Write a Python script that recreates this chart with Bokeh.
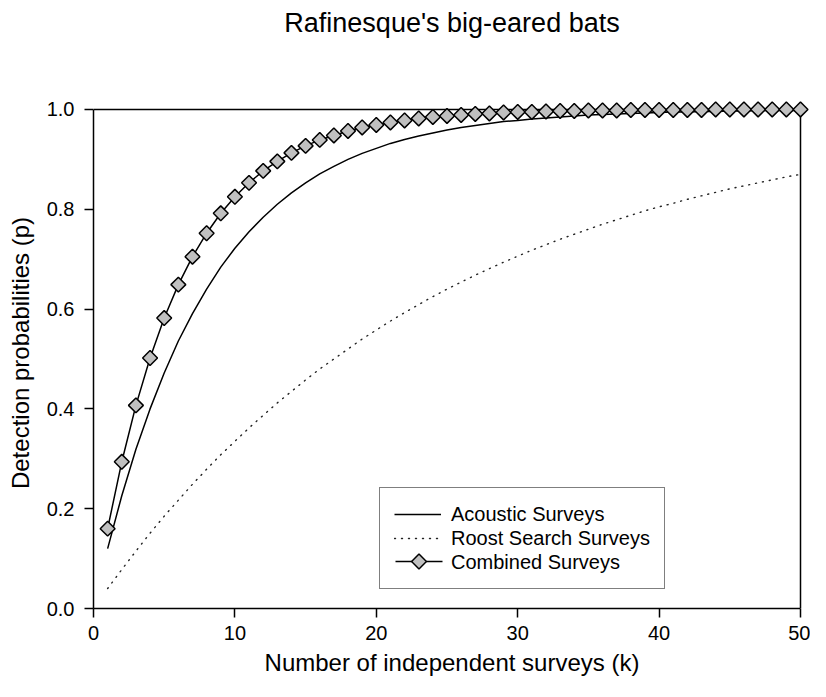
from bokeh.plotting import figure
from bokeh.models import Range1d, FixedTicker, Legend, LegendItem, Title
from bokeh.embed import file_html
from bokeh.resources import INLINE
import math

title_text = "Rafinesque's big-eared bats"
x_label = "Number of independent surveys (k)"
y_label = "Detection probabilities (p)"

surveys = list(range(1, 51))

acoustic = [0.120, 0.226, 0.319, 0.400, 0.472, 0.536, 0.591, 0.640, 0.684, 0.722,
            0.755, 0.784, 0.810, 0.833, 0.853, 0.871, 0.886, 0.900, 0.912, 0.922,
            0.932, 0.940, 0.947, 0.953, 0.959, 0.964, 0.968, 0.972, 0.976, 0.978,
            0.981, 0.983, 0.985, 0.987, 0.989, 0.990, 0.991, 0.992, 0.993, 0.994,
            0.995, 0.995, 0.996, 0.996, 0.997, 0.997, 0.998, 0.998, 0.998, 0.998]

roost = [0.040, 0.078, 0.115, 0.151, 0.185, 0.217, 0.249, 0.279, 0.308, 0.335,
         0.362, 0.387, 0.412, 0.435, 0.458, 0.480, 0.500, 0.520, 0.540, 0.558,
         0.576, 0.593, 0.609, 0.625, 0.640, 0.654, 0.668, 0.681, 0.694, 0.706,
         0.718, 0.729, 0.740, 0.750, 0.760, 0.770, 0.779, 0.788, 0.797, 0.805,
         0.812, 0.820, 0.827, 0.834, 0.841, 0.847, 0.853, 0.859, 0.865, 0.870]

combined = [0.160, 0.294, 0.407, 0.502, 0.582, 0.649, 0.705, 0.752, 0.792, 0.825,
            0.853, 0.877, 0.896, 0.913, 0.927, 0.939, 0.948, 0.957, 0.964, 0.969,
            0.974, 0.978, 0.982, 0.985, 0.987, 0.989, 0.991, 0.992, 0.994, 0.995,
            0.995, 0.996, 0.997, 0.997, 0.998, 0.998, 0.998, 0.999, 0.999, 0.999,
            0.999, 0.999, 0.999, 1.000, 1.000, 1.000, 1.000, 1.000, 1.000, 1.000]

x_ticks = [0, 10, 20, 30, 40, 50]
y_ticks = [0.0, 0.2, 0.4, 0.6, 0.8, 1.0]
y_tick_labels = ["0.0", "0.2", "0.4", "0.6", "0.8", "1.0"]

series_names = ["Acoustic Surveys", "Roost Search Surveys", "Combined Surveys"]

FONT = "Liberation Sans"

W, H = 810, 682
B_LEFT, B_RIGHT, B_TOP, B_BOTTOM = 93, 0, 97, 74
X_END, Y_END = 50.707, 1.024
frame_w = W - B_LEFT - B_RIGHT
frame_h = H - B_TOP - B_BOTTOM
px_x = X_END / frame_w   # data units per pixel
px_y = Y_END / frame_h

p = figure(width=W, height=H, output_backend="svg", toolbar_location=None,
           title=None,
           x_range=Range1d(0, X_END), y_range=Range1d(0, Y_END),
           min_border_left=B_LEFT, min_border_right=B_RIGHT, min_border_top=B_TOP,
           min_border_bottom=B_BOTTOM)
p.outline_line_color = None
p.grid.visible = False
p.background_fill_color = "white"
p.border_fill_color = "white"

# title: an empty spacer next to the frame, then the real title above it
spacer = Title(text=" ", text_font_size="10px", standoff=47)
p.add_layout(spacer, "above")
main_title = Title(text=title_text, align="center", text_font=FONT,
                   text_font_size="27px", text_font_style="normal",
                   text_color="black", standoff=0)
p.add_layout(main_title, "above")

# axes
for ax in (p.xaxis[0], p.yaxis[0]):
    ax.axis_line_width = 1.5
    ax.axis_line_color = "black"
    ax.major_tick_line_width = 1.5
    ax.major_tick_line_color = "black"
    ax.major_tick_in = 0
    ax.major_tick_out = 9
    ax.minor_tick_line_color = None
    ax.major_label_text_font = FONT
    ax.major_label_text_font_size = "20px"
    ax.major_label_text_color = "black"
    ax.axis_label_text_font = FONT
    ax.axis_label_text_font_size = "24px"
    ax.axis_label_text_font_style = "normal"
    ax.axis_label_text_color = "black"

p.xaxis.ticker = FixedTicker(ticks=x_ticks)
p.xaxis.bounds = (x_ticks[0], x_ticks[-1])
p.xaxis.axis_label = x_label
p.xaxis.major_label_standoff = 8
p.xaxis.axis_label_standoff = 6

p.yaxis.ticker = FixedTicker(ticks=y_ticks)
p.yaxis.major_label_overrides = {t: l for t, l in zip(y_ticks, y_tick_labels)}
p.yaxis.bounds = (y_ticks[0], y_ticks[-1])
p.yaxis.axis_label = y_label
p.yaxis.major_label_standoff = 10
p.yaxis.axis_label_standoff = 10

# top and right frame edges
p.segment(x0=[x_ticks[0], x_ticks[-1]], y0=[y_ticks[-1], y_ticks[0]],
          x1=[x_ticks[-1], x_ticks[-1]], y1=[y_ticks[-1], y_ticks[-1]],
          line_color="black", line_width=1.5)

DIAMOND = dict(marker="square", size=10.5, angle=math.pi / 4,
               fill_color="#c0c0c0", line_color="black", line_width=1.5)

r_ac = p.line(surveys, acoustic, line_color="black", line_width=1.5)
r_ro = p.line(surveys, roost, line_color="#222222", line_width=1.4,
              line_dash="1 6", line_cap="round")
r_cl = p.line(surveys, combined, line_color="black", line_width=1.5)
r_cm = p.scatter(surveys, combined, **DIAMOND)
r_dummy = p.line([], [], line_alpha=0)

LEG_LOC = (286, 19)
LEG_PAD = 14
GLYPH_W = 47
ROW_H = 24

legend = Legend(items=[
    LegendItem(label=series_names[0], renderers=[r_ac]),
    LegendItem(label=series_names[1], renderers=[r_ro]),
    LegendItem(label=series_names[2], renderers=[r_dummy]),
], location=LEG_LOC)
legend.label_text_font = FONT
legend.label_text_font_size = "20px"
legend.label_text_color = "black"
legend.border_line_color = "black"
legend.border_line_width = 1.5
legend.background_fill_alpha = 0.0
legend.padding = LEG_PAD
legend.margin = 0
legend.spacing = 0
legend.glyph_width = GLYPH_W
legend.glyph_height = ROW_H
legend.label_height = ROW_H
legend.label_standoff = 10
p.add_layout(legend, "center")

# line + rotated-square icon for the "Combined Surveys" legend entry
icon_cx = LEG_LOC[0] + 2 + LEG_PAD + GLYPH_W / 2
icon_cy = LEG_LOC[1] + 2 + LEG_PAD + ROW_H / 2
p.segment(x0=[(icon_cx - GLYPH_W / 2) * px_x], x1=[(icon_cx + GLYPH_W / 2) * px_x],
          y0=[icon_cy * px_y], y1=[icon_cy * px_y], line_color="black", line_width=1.5)
p.scatter([icon_cx * px_x], [icon_cy * px_y], **DIAMOND)

open("out.html", "w").write(file_html(p, INLINE))
